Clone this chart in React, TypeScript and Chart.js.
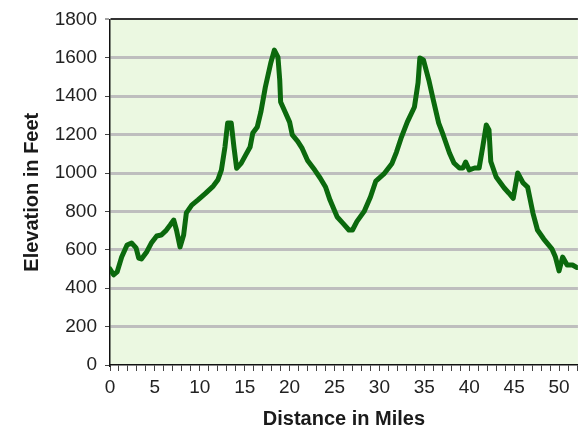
import React, { useEffect, useRef } from "react";
import { Chart, registerables } from "chart.js";

Chart.register(...registerables);

// Distance along the route (miles)
const miles = [
  0.0, 0.4, 0.8, 1.3, 1.9, 2.4, 2.9, 3.2, 3.5, 4.1, 4.6, 5.2, 5.7, 6.2, 6.7, 7.1, 7.4, 7.8, 8.2, 8.5,
  9.1, 9.8, 10.6, 11.5, 12.0, 12.4, 12.8, 13.1, 13.5, 13.8, 14.1, 14.6, 15.1, 15.6, 15.9, 16.4, 16.8,
  17.3, 17.9, 18.3, 18.7, 18.9, 19.0, 19.4, 20.0, 20.3, 20.9, 21.4, 22.0, 22.8, 23.4, 24.0, 24.5, 25.3,
  25.9, 26.6, 27.0, 27.5, 28.3, 29.0, 29.6, 30.5, 31.4, 31.9, 32.4, 33.1, 33.9, 34.3, 34.5, 34.9, 35.5,
  36.0, 36.6, 37.1, 37.8, 38.3, 38.9, 39.3, 39.6, 40.0, 40.6, 41.1, 41.5, 41.9, 42.2, 42.4, 43.0, 43.9,
  44.4, 44.9, 45.4, 46.0, 46.5, 47.1, 47.6, 48.3, 49.2, 49.6, 50.0, 50.4, 50.9, 51.5, 52.0,
];

// Elevation at each distance (feet)
const elevationFeet = [
  500, 470, 485, 562, 625, 635, 610, 557, 552, 590, 635, 672, 677, 698, 729, 755, 703, 615, 677, 792,
  833, 860, 893, 932, 963, 1015, 1135, 1260, 1260, 1135, 1025, 1050, 1093, 1135, 1208, 1240, 1318,
  1448, 1573, 1640, 1604, 1484, 1370, 1328, 1265, 1198, 1165, 1128, 1065, 1015, 974, 927, 859, 771,
  740, 703, 703, 748, 800, 875, 958, 995, 1050, 1109, 1180, 1265, 1344, 1469, 1599, 1589, 1484,
  1380, 1260, 1198, 1104, 1052, 1026, 1026, 1057, 1016, 1026, 1026, 1135, 1250, 1224, 1060, 979, 922,
  896, 868, 1000, 948, 927, 790, 703, 656, 605, 562, 490, 562, 521, 521, 508,
];

const xTitle = "Distance in Miles";
const yTitle = "Elevation in Feet";
const xMin = 0;
const xMax = 52.1;
const xLabelEvery = 5;
const yMin = 0;
const yMax = 1800;
const yStep = 200;

const FONT = "'Liberation Sans', Arial, Helvetica, sans-serif";

const plotBackground = {
  id: "plotBackground",
  beforeDraw(chart: any) {
    const { ctx, chartArea } = chart;
    if (!chartArea) return;
    ctx.save();
    ctx.fillStyle = "#ebf8e1";
    ctx.fillRect(chartArea.left, chartArea.top, chartArea.right - chartArea.left, chartArea.bottom - chartArea.top);
    ctx.restore();
  },
};

export default function App() {
  const ref = useRef<HTMLCanvasElement | null>(null);

  useEffect(() => {
    if (!ref.current) return;
    const points = miles.map((m, i) => ({ x: m, y: elevationFeet[i] }));
    const chart = new Chart(ref.current, {
      type: "line",
      data: {
        datasets: [
          {
            data: points,
            borderColor: "#0b690d",
            borderWidth: 5,
            pointRadius: 0,
            tension: 0,
            borderJoinStyle: "round",
            borderCapStyle: "round",
            fill: false,
          },
        ],
      },
      options: {
        animation: false,
        responsive: false,
        devicePixelRatio: 1,
        layout: { padding: { top: 19, left: 0, right: 0, bottom: 0 } },
        plugins: {
          legend: { display: false },
          tooltip: { enabled: false },
        },
        scales: {
          x: {
            type: "linear",
            position: "bottom",
            min: xMin,
            max: xMax,
            ticks: {
              stepSize: 1,
              autoSkip: false,
              includeBounds: false,
              maxRotation: 0,
              padding: 5,
              color: "#222",
              font: { family: FONT, size: 19 },
              callback: (v: any) => (Number(v) % xLabelEvery === 0 ? String(v) : ""),
            },
            grid: {
              drawOnChartArea: false,
              drawTicks: true,
              tickLength: 6,
              tickColor: "#444",
              tickWidth: 1,
            },
            border: { color: "#111", width: 1.5 },
            title: {
              display: true,
              text: xTitle,
              color: "#1a1a1a",
              font: { family: FONT, size: 20, weight: "bold" },
              padding: { top: 0, bottom: 0 },
            },
            afterFit: (s: any) => {
              s.height = 66;
            },
          },
          y: {
            type: "linear",
            min: yMin,
            max: yMax,
            ticks: {
              stepSize: yStep,
              padding: 8,
              color: "#222",
              font: { family: FONT, size: 19 },
              callback: (v: any) => String(v),
            },
            grid: {
              color: (c: any) =>
                c.tick && c.tick.value === yMax ? "#333" : c.tick && c.tick.value === yMin ? "rgba(0,0,0,0)" : "#bebebe",
              lineWidth: (c: any) => (c.tick && c.tick.value === yMax ? 2 : 3),
              tickLength: 5,
              tickColor: "#444",
              tickWidth: 1,
            },
            border: { color: "#111", width: 1.5 },
            title: {
              display: true,
              text: yTitle,
              color: "#1a1a1a",
              font: { family: FONT, size: 20, weight: "bold" },
              padding: { top: 20, bottom: 0 },
            },
            afterFit: (s: any) => {
              s.width = 110;
            },
          },
        },
      },
      plugins: [plotBackground],
    } as any);
    return () => chart.destroy();
  }, []);

  return (
    <div style={{ position: "fixed", left: 0, top: 0, width: 582, height: 431, background: "#fff" }}>
      <canvas ref={ref} width={582} height={431} style={{ display: "block" }} />
    </div>
  );
}
